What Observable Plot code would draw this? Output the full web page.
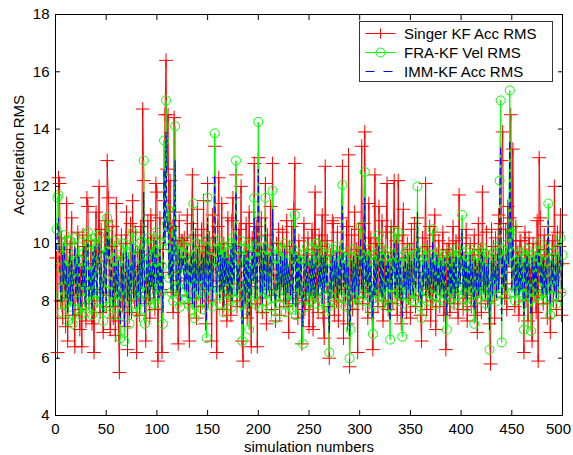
<!DOCTYPE html>
<html>
<head>
<meta charset="utf-8">
<script src="https://cdn.jsdelivr.net/npm/d3@7"></script>
<script src="https://cdn.jsdelivr.net/npm/@observablehq/plot@0.6"></script>
<style>
  html, body { margin: 0; padding: 0; background: #fff; }
  #wrap { position: relative; width: 573px; height: 455px; font-family: "Liberation Sans", Arial, sans-serif; }
  #legend { position: absolute; left: 359px; top: 21px; width: 192px; height: 59px; border: 1px solid #333; background: #fff; }
  .row { position: absolute; left: 0; height: 19px; width: 192px; }
  .row svg { position: absolute; left: 5px; top: 0; }
  .row span { position: absolute; left: 44px; top: 0; font-size: 15px; line-height: 19px; color: #000; white-space: nowrap; }
</style>
</head>
<body>
<div id="wrap"></div>
<script>
// Singer KF Acc RMS (red, +)
const singer = [
9.5,6.2,12.3,12.1,8.0,10.2,7.4,9.8,8.6,7.1, 11.4,6.6,9.2,8.1,10.0,10.9,7.5,8.8,6.4,9.6,
8.2,10.4,7.7,7.0,9.1,6.4,10.3,8.5,9.9,7.3, 11.6,11.3,7.9,8.7,10.1,7.2,8.4,6.2,9.3,11.1,
8.0,9.7,12.0,7.6,10.5,8.3,6.9,9.4,10.8,7.8, 12.9,11.6,8.2,7.0,9.9,10.6,7.4,8.9,6.8,11.4,
8.6,7.3,5.5,9.5,10.3,7.8,8.8,7.1,10.0,11.1, 6.3,9.0,8.4,10.7,7.6,11.5,9.2,8.0,10.4,6.2,
9.7,8.3,7.5,10.6,9.1,14.7,12.2,7.9,6.6,9.4, 10.8,8.1,7.4,11.0,9.6,8.5,10.2,7.7,12.1,11.8,
5.9,9.3,10.9,8.4,6.2,9.8,11.5,14.5,16.4,12.6, 14.5,9.0,12.2,8.3,10.6,7.6,14.4,11.1,8.7,9.9,
6.5,10.8,8.2,10.1,10.1,10.0,10.2,9.6,8.8,11.0, 7.9,6.6,9.5,10.7,12.4,9.2,8.1,10.3,7.4,11.2,
8.6,9.9,7.8,10.5,9.0,11.5,8.4,7.2,9.7,12.1, 8.0,10.2,9.3,6.6,11.0,8.7,13.4,9.8,6.2,10.6,
12.3,8.5,9.1,11.4,7.7,10.0,8.9,9.6,7.3,10.9, 8.2,9.4,7.5,10.8,11.6,8.6,9.9,12.4,7.8,9.2,
10.5,8.0,12.0,6.6,5.9,9.7,8.3,10.7,7.4,9.0, 11.1,8.5,6.4,10.2,9.3,12.8,7.9,10.6,6.4,13.0,
9.5,8.1,10.9,7.6,9.8,8.7,12.1,7.2,10.3,9.1, 8.4,11.3,7.7,12.8,9.6,8.2,7.3,10.0,8.9,10.5,
7.5,9.4,8.6,10.4,8.0,9.7,7.8,10.8,8.5,6.9, 9.9,8.3,10.6,7.9,11.2,12.8,8.1,9.5,7.4,10.1,
8.8,9.3,6.5,8.0,10.7,7.7,9.6,8.4,10.2,7.1, 9.0,8.6,10.5,7.0,9.8,11.8,8.2,9.4,7.6,10.3,
8.7,9.9,11.0,7.4,6.7,12.7,8.5,10.1,7.8,6.0, 9.6,8.3,10.8,10.7,7.5,9.2,8.0,10.4,7.3,9.7,
8.6,10.9,12.7,6.7,9.1,8.4,10.6,7.2,13.1,5.7, 9.4,10.3,7.7,8.9,11.1,8.1,9.8,6.2,10.5,8.6,
9.3,13.4,7.9,10.7,13.9,8.3,9.6,7.4,11.4,8.8, 10.2,7.6,6.3,9.5,12.4,8.2,10.0,7.8,11.3,9.1,
8.5,10.8,7.3,9.7,8.0,10.4,12.1,7.7,9.2,8.6, 10.6,7.9,9.4,12.2,8.3,10.1,7.5,12.2,9.0,8.4,
7.2,10.3,11.2,8.7,9.5,7.6,10.0,8.1,9.8,7.4, 10.5,8.6,9.2,10.7,7.8,9.0,10.9,8.2,9.6,7.5,
6.6,10.2,8.8,9.4,12.1,7.7,9.9,8.4,10.6,7.3, 9.1,8.0,10.3,11.0,7.0,9.6,8.5,10.1,7.8,9.3,
8.7,10.4,7.5,9.0,6.3,9.8,8.2,10.0,7.6,9.5, 8.3,10.6,7.9,9.2,10.1,8.6,7.4,11.7,8.9,9.7,
10.2,7.7,9.4,8.1,10.5,7.3,9.0,8.5,10.0,7.8, 9.6,8.2,10.3,7.5,9.1,6.9,10.7,8.4,9.8,7.6,
11.8,8.7,9.3,7.9,10.4,8.0,9.5,7.2,5.8,10.5, 8.6,9.9,7.4,10.2,8.3,9.6,11.0,8.8,10.7,12.9,
13.9,9.2,8.1,10.5,7.7,11.3,9.4,10.9,14.5,8.6, 13.3,9.0,7.8,10.6,8.4,9.7,7.5,10.1,10.1,8.9,
9.3,6.2,10.4,8.0,9.6,7.3,10.2,8.5,9.1,6.6, 10.0,8.2,9.5,7.6,10.8,5.9,13.0,10.9,8.7,9.4,
7.9,10.3,8.4,9.8,7.4,10.6,8.8,6.9,9.2,10.1, 8.0,12.0,9.6,7.7,10.4,8.3,9.9,11.0,7.5,9.3
];
// FRA-KF Vel RMS (green, o)
const fra = [
10.5,11.6,11.7,9.2,8.2,7.6,9.9,8.5,10.3,7.9, 9.4,7.3,8.7,10.1,7.8,9.6,7.2,8.8,10.2,8.0,
9.5,7.7,9.9,8.3,7.5,9.4,8.4,10.3,7.8,7.6, 9.8,10.4,7.9,9.2,8.3,7.5,10.0,8.1,10.2,9.1,
8.0,9.7,10.3,7.7,9.5,8.4,7.3,9.9,8.6,7.8, 10.9,9.6,10.6,7.9,9.4,8.3,7.5,10.1,8.2,9.3,
8.0,9.6,7.5,6.7,9.4,8.2,10.0,6.6,8.9,9.95, 7.8,9.7,7.2,9.3,8.4,10.4,7.9,9.8,8.5,7.6,
9.5,8.1,10.0,7.7,10.1,8.3,12.9,7.2,8.6,9.6, 8.0,10.2,7.8,9.3,8.4,9.9,7.9,9.7,10.4,8.5,
9.4,7.9,10.0,8.3,9.2,7.2,13.6,10.1,15.0,10.7, 11.2,8.8,9.9,8.3,10.5,8.0,9.8,14.1,8.7,8.1,
8.5,10.0,7.8,9.7,9.2,9.9,8.3,9.6,8.1,10.1, 7.9,9.4,8.5,9.8,7.7,11.4,7.4,9.5,8.2,10.0,
8.0,9.3,8.6,9.9,7.7,9.6,8.4,10.1,6.7,11.6, 8.2,9.5,8.4,9.8,7.8,10.0,13.85,9.4,8.2,10.1,
9.3,7.9,9.8,8.3,9.6,7.6,9.9,8.5,9.7,8.0, 9.4,8.2,10.0,7.8,10.2,8.6,9.7,12.9,8.1,9.3,
8.3,9.6,10.1,6.6,8.5,9.8,7.7,9.5,8.2,10.0, 7.0,9.3,8.0,9.9,8.6,11.6,7.9,9.7,8.3,14.25,
9.5,8.2,10.1,7.7,9.6,8.4,11.6,8.0,9.8,8.3, 9.3,9.7,7.8,11.85,8.6,8.1,7.4,9.9,8.3,9.4,
7.9,9.8,8.4,9.5,8.1,10.0,7.6,9.6,8.2,9.3, 8.5,8.0,9.9,7.7,9.5,11.0,7.5,9.7,8.3,9.4,
8.1,9.6,8.4,6.5,9.3,9.4,7.8,9.9,8.2,8.6, 9.5,8.0,9.8,8.3,9.4,7.9,10.0,10.0,8.1,9.3,
8.4,9.7,7.7,9.6,8.2,9.9,8.5,9.4,7.8,6.2, 9.3,8.3,9.8,8.0,9.5,8.4,9.9,7.9,9.3,8.2,
9.6,8.1,12.05,8.4,9.4,7.8,9.7,8.3,9.3,6.0, 7.0,9.5,8.2,9.8,7.9,9.4,8.4,9.7,8.1,9.3,
10.6,8.3,9.6,8.0,12.5,8.5,9.5,8.2,9.8,7.7, 9.3,8.4,6.85,9.6,8.1,9.4,8.3,9.7,10.3,8.2,
9.5,7.9,9.8,8.5,8.2,9.4,8.4,9.7,7.8,6.65, 9.3,8.3,9.6,10.4,8.1,9.4,8.4,10.4,8.0,9.5,
8.2,6.75,9.3,8.4,9.7,7.9,9.4,8.3,9.8,8.1, 9.5,8.5,8.0,9.6,8.3,9.3,12.0,8.2,9.7,7.8,
7.4,9.4,8.4,9.8,8.1,9.5,8.3,9.3,8.0,9.6, 8.5,10.5,8.2,9.4,7.9,9.7,8.4,9.3,8.1,9.5,
8.3,9.3,8.0,9.6,8.2,7.0,9.4,8.4,9.7,8.1, 9.3,8.3,9.5,7.9,9.8,8.4,8.2,9.6,8.5,9.4,
11.0,8.1,9.5,8.3,9.7,7.8,9.3,8.4,9.8,8.2, 9.4,8.0,7.2,9.6,8.3,9.3,8.1,9.5,8.4,9.7,
9.85,8.2,9.4,7.9,9.3,8.4,9.6,6.3,8.3,9.5, 8.1,9.7,8.5,9.3,8.0,9.9,8.3,12.2,15.0,6.55,
9.8,8.4,9.5,8.2,9.6,10.0,9.4,15.35,10.4,8.3, 10.6,9.3,8.0,9.6,8.4,9.4,8.1,9.7,8.3,9.3,
8.2,7.0,9.5,8.5,9.8,7.9,9.4,8.3,6.95,9.6, 8.4,9.3,8.1,9.7,8.2,9.5,10.0,8.5,9.4,8.0,
9.6,8.3,9.3,8.1,9.9,11.4,8.4,7.5,9.5,8.5, 9.7,8.2,9.4,7.9,9.8,8.4,9.3,10.2,8.3,9.6
];
// IMM-KF Acc RMS (blue, dashed)
const imm = [
9.8,10.6,10.9,9.3,8.4,7.9,9.6,8.6,9.9,8.1, 9.2,7.6,8.7,9.8,8.0,9.4,7.5,8.8,9.9,8.2,
9.3,7.9,9.6,8.4,7.8,9.2,8.5,9.9,8.0,7.8, 9.6,10.0,8.1,9.1,8.4,7.7,9.7,8.2,9.9,9.0,
8.2,9.5,10.0,7.9,9.3,8.5,7.6,9.7,8.7,8.0, 10.4,9.5,10.2,8.1,9.3,8.4,7.8,9.8,8.3,9.2,
8.1,9.4,7.7,7.2,9.2,8.3,9.7,7.1,8.9,9.7, 8.0,9.5,7.5,9.2,8.5,10.0,8.1,9.6,8.6,7.8,
9.3,8.3,9.8,7.9,9.8,8.5,11.8,7.6,8.7,9.4, 8.2,9.9,8.0,9.2,8.5,9.7,8.1,9.5,10.1,8.6,
9.2,8.1,9.8,8.4,9.1,7.6,12.6,10.0,13.9,10.4, 10.8,8.9,9.7,8.4,10.2,8.2,9.6,12.9,8.8,8.3,
8.6,9.8,8.0,9.5,9.1,9.7,8.4,9.5,8.3,9.9, 8.1,9.3,8.6,9.6,7.9,10.8,7.7,9.4,8.3,9.8,
8.2,9.2,8.7,9.7,7.9,9.5,8.5,9.9,7.3,10.9, 8.3,9.4,8.5,9.6,8.0,9.8,12.4,9.3,8.3,9.9,
9.2,8.1,9.6,8.4,9.5,7.8,9.7,8.6,9.5,8.2, 9.3,8.3,9.8,8.0,10.0,8.7,9.6,11.8,8.2,9.2,
8.4,9.5,9.9,7.2,8.6,9.6,7.9,9.4,8.3,9.8, 7.5,9.2,8.2,9.7,8.7,10.9,8.1,9.6,8.4,12.6,
9.4,8.3,9.9,7.9,9.5,8.5,10.9,8.2,9.6,8.4, 9.2,9.6,8.0,11.2,8.7,8.3,7.8,9.7,8.4,9.3,
8.1,9.6,8.5,9.4,8.2,9.8,7.9,9.5,8.3,9.2, 8.6,8.2,9.7,7.9,9.4,10.5,7.8,9.6,8.4,9.3,
8.2,9.5,8.5,7.1,9.2,9.3,8.0,9.7,8.3,8.7, 9.4,8.2,9.6,8.4,9.3,8.1,9.8,9.8,8.2,9.2,
8.5,9.6,7.9,9.5,8.3,9.7,8.6,9.3,8.0,6.9, 9.2,8.4,9.6,8.1,9.4,8.5,9.7,8.1,9.2,8.3,
9.5,8.2,11.3,8.5,9.3,8.0,9.6,8.4,9.2,6.8, 7.5,9.4,8.3,9.6,8.1,9.3,8.5,9.6,8.2,9.2,
10.2,8.4,9.5,8.1,11.6,8.6,9.4,8.3,9.6,7.9, 9.2,8.5,7.4,9.5,8.2,9.3,8.4,9.6,9.9,8.3,
9.4,8.1,9.6,8.6,8.3,9.3,8.5,9.6,8.0,7.3, 9.2,8.4,9.5,10.0,8.2,9.3,8.5,10.0,8.1,9.4,
8.3,7.4,9.2,8.5,9.6,8.1,9.3,8.4,9.6,8.2, 9.4,8.6,8.2,9.5,8.4,9.2,11.1,8.3,9.6,8.0,
7.8,9.3,8.5,9.6,8.2,9.4,8.4,9.2,8.1,9.5, 8.6,10.1,8.3,9.3,8.1,9.6,8.5,9.2,8.2,9.4,
8.4,9.2,8.1,9.5,8.3,7.5,9.3,8.5,9.6,8.2, 9.2,8.4,9.4,8.1,9.6,8.5,8.3,9.5,8.6,9.3,
10.5,8.2,9.4,8.4,9.6,8.0,9.2,8.5,9.6,8.3, 9.3,8.2,7.7,9.5,8.4,9.2,8.2,9.4,8.5,9.6,
9.7,8.3,9.3,8.1,9.2,8.5,9.5,7.0,8.4,9.4, 8.2,9.6,8.6,9.2,8.1,9.7,8.4,11.5,13.4,7.3,
9.6,8.5,9.4,8.3,9.5,9.8,9.3,13.6,10.1,8.4, 10.2,9.2,8.2,9.5,8.5,9.3,8.2,9.6,8.4,9.2,
8.3,7.5,9.4,8.6,9.6,8.1,9.3,8.4,7.5,9.5, 8.5,9.2,8.2,9.6,8.3,9.4,9.8,8.6,9.3,8.2,
9.5,8.4,9.2,8.2,9.7,10.8,8.5,7.9,9.4,8.6, 9.6,8.3,9.3,8.1,9.6,8.5,9.2,9.9,8.4,9.5
];
const xTicks = [0, 50, 100, 150, 200, 250, 300, 350, 400, 450, 500];
const yTicks = [4, 6, 8, 10, 12, 14, 16, 18];
const seriesNames = ["Singer KF Acc RMS", "FRA-KF Vel RMS", "IMM-KF Acc RMS"];
const seriesColors = ["#ff0000", "#00ff00", "#0000ff"];
const xLabel = "simulation numbers";
const yLabel = "Acceleration RMS";

const toRows = arr => arr.map((v, i) => ({x: i + 1, y: v}));
const red = toRows(singer), green = toRows(fra), blue = toRows(imm);
const lastTick = xTicks[xTicks.length - 1];

const chart = Plot.plot({
  width: 573,
  height: 455,
  marginLeft: 55,
  marginRight: 11,
  marginTop: 14,
  marginBottom: 40,
  x: {domain: [0, 500], ticks: xTicks},
  y: {domain: [4, 18], ticks: yTicks},
  style: {fontFamily: "'Liberation Sans', Arial, sans-serif", fontSize: "15px", background: "#fff", color: "#000"},
  marks: [
    Plot.lineY(red, {x: "x", y: "y", stroke: seriesColors[0], strokeWidth: 1}),
    Plot.dot(red, {x: "x", y: "y", symbol: "plus", r: 4.5, stroke: seriesColors[0], strokeWidth: 1}),
    Plot.lineY(green, {x: "x", y: "y", stroke: seriesColors[1], strokeWidth: 1}),
    Plot.dot(green, {x: "x", y: "y", symbol: "circle", r: 4.5, stroke: seriesColors[1], fill: "none", strokeWidth: 1}),
    Plot.lineY(blue, {x: "x", y: "y", stroke: seriesColors[2], strokeWidth: 1, strokeDasharray: "6,4"}),
    Plot.frame({stroke: "#000", strokeWidth: 1}),
    Plot.axisX({anchor: "bottom", ticks: xTicks, tickSize: -5, tickPadding: 13, label: null, fontSize: 15,
      tickFormat: d => (d === lastTick ? "" : String(d))}),
    Plot.axisX({anchor: "bottom", ticks: [lastTick], tickSize: 0, tickPadding: 8, label: null, fontSize: 15, dx: -4}),
    Plot.axisX({anchor: "top", ticks: xTicks, tickSize: -5, tickFormat: () => "", label: null}),
    Plot.axisY({anchor: "left", ticks: yTicks, tickSize: -5, tickPadding: 11, label: null, fontSize: 15}),
    Plot.axisY({anchor: "right", ticks: yTicks, tickSize: -5, tickFormat: () => "", label: null}),
    Plot.text([xLabel], {frameAnchor: "bottom", dy: 32, text: d => d, fontSize: 15, lineAnchor: "middle"}),
    Plot.text([yLabel], {frameAnchor: "left", dx: -36, rotate: -90, text: d => d, fontSize: 15})
  ]
});

const wrap = document.getElementById("wrap");
wrap.appendChild(chart);

// Legend inside the axes (top-right)
const legend = document.createElement("div");
legend.id = "legend";
const kinds = ["plus", "circle", "dash"];
seriesNames.forEach((name, i) => {
  const row = document.createElement("div");
  row.className = "row";
  row.style.top = (2 + i * 19) + "px";
  const c = seriesColors[i];
  let marker = "";
  if (kinds[i] === "plus") marker = `<line x1="0.5" y1="9.5" x2="30.5" y2="9.5" stroke="${c}"/><path d="M10.5,9.5H20.5M15.5,4.5V14.5" stroke="${c}" fill="none"/>`;
  if (kinds[i] === "circle") marker = `<line x1="0.5" y1="9.5" x2="30.5" y2="9.5" stroke="${c}"/><circle cx="15.5" cy="9.5" r="4.5" stroke="${c}" fill="none"/>`;
  if (kinds[i] === "dash") marker = `<line x1="0.5" y1="9.5" x2="30.5" y2="9.5" stroke="${c}" stroke-dasharray="9,9"/>`;
  row.innerHTML = `<svg width="32" height="19">${marker}</svg><span>${name}</span>`;
  legend.appendChild(row);
});
wrap.appendChild(legend);
</script>
</body>
</html>
